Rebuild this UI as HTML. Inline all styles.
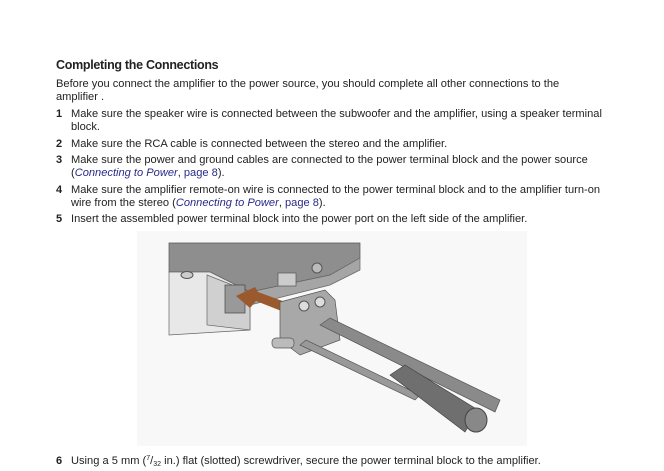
<!DOCTYPE html>
<html><head><style>
body{margin:0;width:664px;height:471px;background:#fff;position:relative;overflow:hidden;font-family:"Liberation Sans",sans-serif;color:#222;}
.t{position:absolute;font-size:11.1px;white-space:nowrap;line-height:12px;}
.n{position:absolute;font-size:11px;font-weight:bold;}
h1{position:absolute;left:56px;top:58px;margin:0;font-size:12.5px;font-weight:bold;letter-spacing:-0.3px;}
i{color:#2a2a8a;}
.l{color:#2a2a8a;}
.s{font-size:7px;position:relative;line-height:0;}
</style></head><body>
<h1>Completing the Connections</h1>
<div class="t" style="left:56px;top:78px">Before you connect the amplifier to the power source, you should complete all other connections to the</div>
<div class="t" style="left:56px;top:91px">amplifier .</div>
<div class="n" style="left:56px;top:108px">1</div>
<div class="t" style="left:71px;top:108px">Make sure the speaker wire is connected between the subwoofer and the amplifier, using a speaker terminal</div>
<div class="t" style="left:71px;top:121px">block.</div>
<div class="n" style="left:56px;top:138px">2</div>
<div class="t" style="left:71px;top:138px">Make sure the RCA cable is connected between the stereo and the amplifier.</div>
<div class="n" style="left:56px;top:154px">3</div>
<div class="t" style="left:71px;top:154px">Make sure the power and ground cables are connected to the power terminal block and the power source</div>
<div class="t" style="left:71px;top:167px">(<i>Connecting to Power</i>, <span class="l">page 8</span>).</div>
<div class="n" style="left:56px;top:184px">4</div>
<div class="t" style="left:71px;top:184px">Make sure the amplifier remote-on wire is connected to the power terminal block and to the amplifier turn-on</div>
<div class="t" style="left:71px;top:197px">wire from the stereo (<i>Connecting to Power</i>, <span class="l">page 8</span>).</div>
<div class="n" style="left:56px;top:213px">5</div>
<div class="t" style="left:71px;top:213px">Insert the assembled power terminal block into the power port on the left side of the amplifier.</div>
<svg style="position:absolute;left:137px;top:231px" width="390" height="215" viewBox="137 231 390 215">
<rect x="137" y="231" width="390" height="215" fill="#f8f8f8"/>
<polygon points="169,243 360,243 360,258 330,275 250,292 210,272 169,272" fill="#8e8e8e" stroke="#555" stroke-width="0.7"/>
<polygon points="169,272 210,272 250,292 250,330 169,335" fill="#e8e8e8" stroke="#666" stroke-width="0.7"/>
<polygon points="207,275 250,292 250,330 207,325" fill="#d0d0d0" stroke="#666" stroke-width="0.7"/>
<polygon points="250,292 330,275 360,258 360,270 330,285 250,305" fill="#a5a5a5" stroke="#666" stroke-width="0.7"/>
<ellipse cx="187" cy="275" rx="6" ry="3.5" fill="#ccc" stroke="#555"/>
<rect x="225" y="285" width="20" height="28" fill="#999" stroke="#444" stroke-width="0.7"/>
<rect x="278" y="273" width="18" height="13" fill="#ccc" stroke="#555" stroke-width="0.7"/>
<circle cx="317" cy="268" r="5" fill="#bbb" stroke="#555"/>
<polygon points="236,296 255,287 258,292 288,303 284,312 256,301 250,308" fill="#9a5a2e"/>
<polygon points="280,302 325,290 335,300 340,340 300,355 280,340" fill="#a8a8a8" stroke="#555" stroke-width="0.7"/>
<circle cx="304" cy="306" r="5" fill="#ddd" stroke="#555"/>
<circle cx="320" cy="302" r="5" fill="#ddd" stroke="#555"/>
<rect x="272" y="338" width="22" height="10" rx="4" fill="#bbb" stroke="#555" stroke-width="0.7"/>
<polygon points="320,325 330,318 500,400 495,412" fill="#8a8a8a" stroke="#555" stroke-width="0.7"/>
<polygon points="300,345 306,340 420,395 415,400" fill="#999" stroke="#555" stroke-width="0.7"/>
<polygon points="390,375 405,365 478,410 465,432" fill="#6f6f6f" stroke="#444" stroke-width="0.7"/>
<ellipse cx="476" cy="420" rx="11" ry="12" fill="#888" stroke="#444"/>
</svg>
<div class="n" style="left:56px;top:455px">6</div>
<div class="t" style="left:71px;top:455px">Using a 5 mm (<span class="s" style="top:-4px">7</span>/<span class="s" style="top:2px">32</span> in.) flat (slotted) screwdriver, secure the power terminal block to the amplifier.</div>
</body></html>
